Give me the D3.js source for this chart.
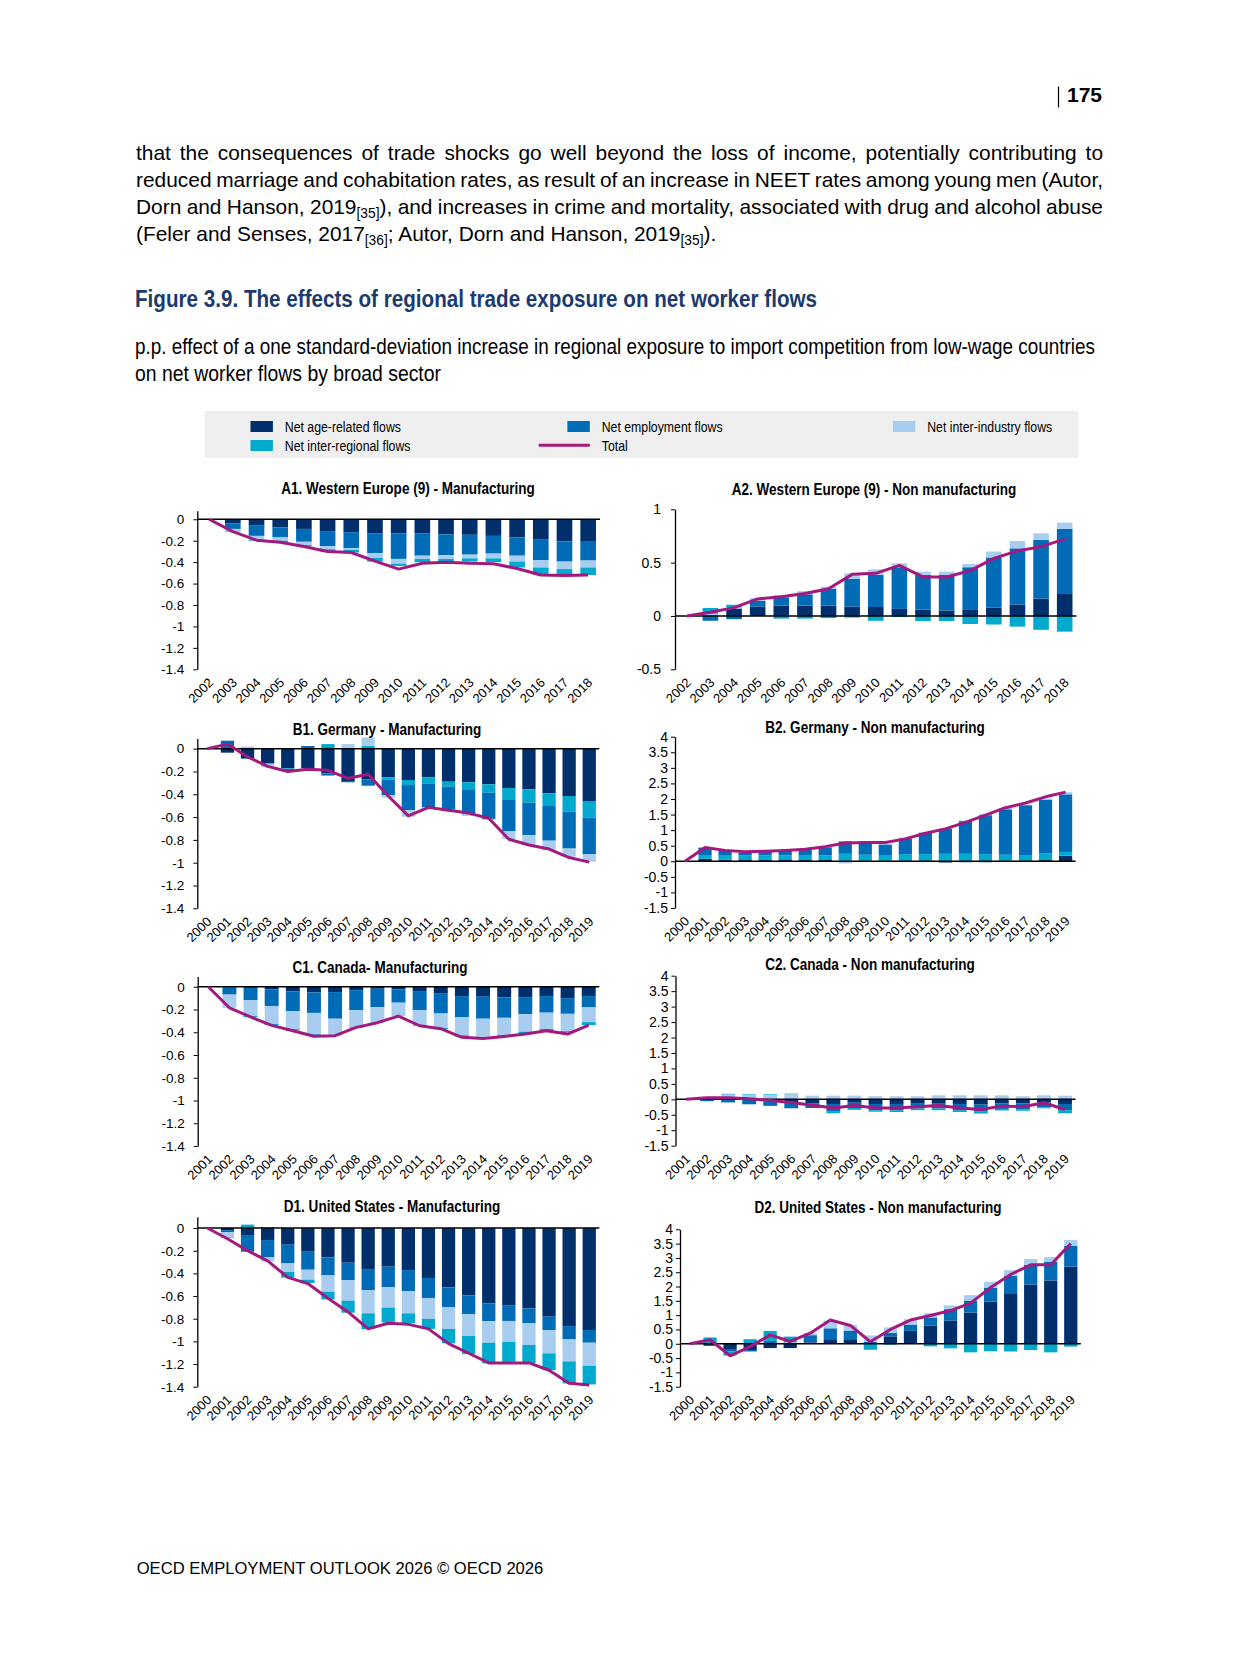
<!DOCTYPE html>
<html>
<head>
<meta charset="utf-8">
<script src="https://cdn.jsdelivr.net/npm/d3@7"></script>
<style>
body { margin: 0; background: #fff; }
#page { position: relative; width: 1241px; height: 1654px; overflow: hidden; background: #fff; }
#para { position: absolute; left: 136px; top: 140.2px; width: 967px; font-family: "Liberation Sans", Arial, sans-serif; font-size: 20.9px; line-height: 26.8px; color: #000; }
#para div { white-space: nowrap; height: 26.8px; }
#para sub { font-size: 13.8px; vertical-align: -4px; line-height: 0; }
svg { position: absolute; left: 0; top: 0; }
</style>
</head>
<body>
<div id="page">
  <div id="para">
    <div class="jl"><span>that the consequences of trade shocks go well beyond the loss of income, potentially contributing to</span></div>
    <div class="jl"><span>reduced marriage and cohabitation rates, as result of an increase in NEET rates among young men (Autor,</span></div>
    <div class="jl"><span>Dorn and Hanson, 2019<sub>[35]</sub>), and increases in crime and mortality, associated with drug and alcohol abuse</span></div>
    <div><span>(Feler and Senses, 2017<sub>[36]</sub>; Autor, Dorn and Hanson, 2019<sub>[35]</sub>).</span></div>
  </div>
</div>
<script>
// ---- categories ----
var yrs02_18 = ["2002","2003","2004","2005","2006","2007","2008","2009","2010","2011","2012","2013","2014","2015","2016","2017","2018"];
var yrs00_19 = ["2000","2001","2002","2003","2004","2005","2006","2007","2008","2009","2010","2011","2012","2013","2014","2015","2016","2017","2018","2019"];
var yrs01_19 = ["2001","2002","2003","2004","2005","2006","2007","2008","2009","2010","2011","2012","2013","2014","2015","2016","2017","2018","2019"];

var ticksLeft = [-1.4, -1.2, -1, -0.8, -0.6, -0.4, -0.2, 0];
var ticksA2 = [-0.5, 0, 0.5, 1];
var ticksRight = [-1.5, -1, -0.5, 0, 0.5, 1, 1.5, 2, 2.5, 3, 3.5, 4];

// ---- A1 Western Europe, manufacturing ----
var a1Age = [0, -0.04, -0.06, -0.075, -0.09, -0.11, -0.12, -0.13, -0.13, -0.13, -0.14, -0.145, -0.155, -0.17, -0.185, -0.205, -0.21];
var a1Emp = [0, -0.05, -0.095, -0.095, -0.12, -0.14, -0.15, -0.185, -0.24, -0.21, -0.195, -0.185, -0.165, -0.17, -0.195, -0.19, -0.175];
var a1Ind = [0, -0.025, -0.035, -0.03, -0.03, -0.03, -0.015, -0.045, -0.045, -0.03, -0.035, -0.035, -0.045, -0.055, -0.07, -0.07, -0.065];
var a1Reg = [0, -0.005, -0.01, -0.015, -0.01, -0.02, -0.025, -0.035, -0.02, -0.03, -0.03, -0.03, -0.035, -0.055, -0.07, -0.055, -0.07];
var a1Tot = [0, -0.115, -0.195, -0.215, -0.255, -0.3, -0.31, -0.39, -0.465, -0.41, -0.4, -0.41, -0.415, -0.46, -0.52, -0.525, -0.52];

// ---- A2 Western Europe, non manufacturing ----
var a2Age = [0, 0.005, 0.07, 0.087, 0.097, 0.097, 0.097, 0.087, 0.084, 0.066, 0.06, 0.05, 0.063, 0.078, 0.106, 0.163, 0.213];
var a2Emp = [0, -0.045, -0.03, 0.056, 0.078, 0.106, 0.156, 0.26, 0.303, 0.39, 0.325, 0.335, 0.394, 0.47, 0.528, 0.55, 0.603];
var a2Ind = [0, 0.015, 0.01, 0.025, 0.02, 0.03, 0.022, 0.053, 0.05, 0.037, 0.03, 0.03, 0.03, 0.056, 0.069, 0.062, 0.06];
var a2Reg = [0, 0.055, 0.025, 0, -0.025, -0.025, -0.02, -0.015, -0.045, -0.01, -0.047, -0.047, -0.075, -0.08, -0.1, -0.13, -0.147];
var a2Tot = [0, 0.034, 0.078, 0.16, 0.18, 0.21, 0.256, 0.39, 0.4, 0.475, 0.366, 0.366, 0.425, 0.54, 0.61, 0.65, 0.72];

// ---- B1 Germany, manufacturing ----
var b1Age = [0, -0.035, -0.085, -0.128, -0.172, -0.172, -0.216, -0.29, -0.27, -0.25, -0.275, -0.25, -0.29, -0.295, -0.313, -0.345, -0.357, -0.392, -0.415, -0.459];
var b1Reg = [0, 0, 0, 0, -0.005, 0, 0.04, 0.005, 0.023, -0.023, -0.044, -0.058, -0.044, -0.061, -0.073, -0.105, -0.117, -0.111, -0.137, -0.146];
var b1Emp = [0, 0.07, -0.005, -0.005, -0.01, 0.023, -0.02, -0.005, -0.055, -0.134, -0.22, -0.205, -0.2, -0.22, -0.23, -0.272, -0.284, -0.304, -0.324, -0.319];
var b1Ind = [0, 0, 0.018, -0.03, 0, -0.02, 0, 0.035, 0.076, -0.023, -0.058, -0.018, -0.018, -0.015, -0.01, -0.07, -0.088, -0.082, -0.07, -0.067];
var b1Tot = [0, 0.04, -0.072, -0.155, -0.2, -0.18, -0.19, -0.26, -0.225, -0.415, -0.59, -0.515, -0.54, -0.565, -0.61, -0.795, -0.845, -0.88, -0.955, -0.995];

// ---- B2 Germany, non manufacturing ----
var b2Age = [0, 0.08, 0.05, 0.04, 0.06, 0.04, 0.04, 0.04, 0.02, 0.01, 0.01, -0.02, -0.02, -0.04, -0.03, -0.03, -0.01, 0, 0.04, 0.18];
var b2Reg = [0, 0.1, 0.13, 0.15, 0.13, 0.15, 0.16, 0.15, 0.22, 0.2, 0.19, 0.23, 0.23, 0.24, 0.24, 0.23, 0.21, 0.2, 0.21, 0.12];
var b2Emp = [0, 0.26, 0.15, 0.1, 0.11, 0.14, 0.17, 0.26, 0.4, 0.38, 0.34, 0.5, 0.68, 0.8, 1.05, 1.25, 1.46, 1.6, 1.73, 1.85];
var b2Ind = [0, 0, 0.03, 0.02, 0.02, 0.02, 0.02, 0.02, -0.07, 0.01, 0.02, 0.03, 0.03, 0.03, 0.02, 0.04, 0.04, 0.02, 0.04, 0.07];
var b2Tot = [0, 0.44, 0.35, 0.31, 0.32, 0.35, 0.385, 0.47, 0.59, 0.6, 0.6, 0.72, 0.9, 1.04, 1.25, 1.48, 1.72, 1.87, 2.07, 2.22];

// ---- C1 Canada, manufacturing ----
var c1Age = [0, -0.005, -0.01, -0.023, -0.041, -0.05, -0.047, -0.03, -0.018, -0.023, -0.038, -0.056, -0.082, -0.088, -0.094, -0.091, -0.082, -0.1, -0.082];
var c1Emp = [0, -0.064, -0.108, -0.146, -0.173, -0.18, -0.234, -0.176, -0.161, -0.117, -0.167, -0.179, -0.187, -0.193, -0.179, -0.15, -0.146, -0.138, -0.1];
var c1Ind = [0, -0.117, -0.14, -0.158, -0.158, -0.187, -0.143, -0.15, -0.143, -0.117, -0.135, -0.126, -0.158, -0.152, -0.152, -0.155, -0.143, -0.152, -0.129];
var c1Reg = [0, 0, -0.01, -0.01, -0.01, -0.015, -0.003, -0.006, 0, 0, -0.005, -0.012, -0.012, -0.003, -0.01, -0.012, -0.012, -0.01, -0.026];
var c1Tot = [0, -0.185, -0.265, -0.34, -0.387, -0.435, -0.43, -0.357, -0.316, -0.258, -0.343, -0.369, -0.445, -0.455, -0.437, -0.416, -0.387, -0.416, -0.337];

// ---- C2 Canada, non manufacturing ----
var c2Age = [0, 0, 0, -0.02, -0.07, -0.09, -0.13, -0.15, -0.11, -0.15, -0.15, -0.12, -0.12, -0.15, -0.17, -0.13, -0.13, -0.1, -0.15];
var c2Emp = [0, -0.06, -0.1, -0.14, -0.14, -0.2, -0.15, -0.25, -0.17, -0.2, -0.2, -0.18, -0.18, -0.2, -0.23, -0.18, -0.19, -0.16, -0.2];
var c2Ind = [0, 0.04, 0.16, 0.14, 0.15, 0.2, 0.12, 0.12, 0.12, 0.1, 0.1, 0.1, 0.13, 0.13, 0.13, 0.13, 0.1, 0.13, 0.12];
var c2Reg = [0, 0, 0.02, 0.02, 0.02, 0, 0, -0.05, -0.06, -0.05, -0.06, -0.05, -0.05, -0.06, -0.06, -0.05, -0.05, -0.03, -0.1];
var c2Tot = [0, 0.05, 0.05, 0.02, -0.04, -0.1, -0.19, -0.28, -0.2, -0.28, -0.28, -0.24, -0.2, -0.28, -0.33, -0.22, -0.24, -0.11, -0.33];

// ---- D1 United States, manufacturing ----
var d1Age = [0, -0.018, -0.068, -0.106, -0.147, -0.209, -0.259, -0.306, -0.362, -0.341, -0.371, -0.441, -0.524, -0.594, -0.665, -0.685, -0.709, -0.782, -0.865, -0.9];
var d1Emp = [0, -0.02, -0.141, -0.153, -0.165, -0.159, -0.159, -0.153, -0.185, -0.182, -0.188, -0.176, -0.176, -0.165, -0.156, -0.135, -0.132, -0.118, -0.118, -0.112];
var d1Ind = [0, -0.044, 0, -0.038, -0.076, -0.088, -0.144, -0.182, -0.206, -0.179, -0.194, -0.185, -0.191, -0.194, -0.191, -0.185, -0.191, -0.206, -0.194, -0.203];
var d1Reg = [0, -0.005, 0.03, 0.005, -0.05, -0.03, -0.068, -0.106, -0.138, -0.132, -0.088, -0.088, -0.126, -0.159, -0.182, -0.176, -0.162, -0.147, -0.194, -0.165];
var d1Tot = [0, -0.095, -0.2, -0.29, -0.435, -0.49, -0.62, -0.74, -0.89, -0.84, -0.85, -0.89, -1.02, -1.105, -1.19, -1.19, -1.19, -1.255, -1.37, -1.385];

// ---- D2 United States, non manufacturing ----
var d2Age = [0, -0.07, -0.21, -0.22, -0.15, -0.15, 0.05, 0.16, 0.16, 0.02, 0.26, 0.45, 0.64, 0.81, 1.09, 1.47, 1.74, 2.07, 2.21, 2.7];
var d2Emp = [0, 0, -0.05, -0.05, 0.1, 0.03, 0.25, 0.38, 0.3, 0.05, 0.12, 0.22, 0.28, 0.4, 0.42, 0.49, 0.63, 0.69, 0.65, 0.72];
var d2Ind = [0, 0, 0, 0, 0, 0.02, 0.07, 0.27, 0.2, 0.22, 0.19, 0.19, 0.15, 0.13, 0.19, 0.21, 0.2, 0.2, 0.17, 0.21];
var d2Reg = [0, 0.22, -0.15, 0.16, 0.35, 0.2, 0, 0, 0, -0.21, -0.03, 0, -0.09, -0.16, -0.3, -0.26, -0.27, -0.22, -0.3, -0.1];
var d2Tot = [0, 0.14, -0.42, -0.1, 0.31, 0.08, 0.37, 0.83, 0.64, 0.07, 0.5, 0.83, 0.99, 1.16, 1.42, 1.97, 2.42, 2.76, 2.76, 3.5];

var seriesNames = {age: "Net age-related flows", emp: "Net employment flows", ind: "Net inter-industry flows", reg: "Net inter-regional flows"};
var colors = {age: "#002F6C", emp: "#006BB6", ind: "#A9CDEE", reg: "#00A9CE", tot: "#A3197F"};
var stdOrder = ["age", "emp", "ind", "reg"];
var deOrder = ["age", "reg", "emp", "ind"];   // Germany charts stack in another order

// is a narrow font around?
var cv = document.createElement("canvas").getContext("2d");
cv.font = '40px "Liberation Sans Narrow", monospace';
var wN = cv.measureText("Manufacturing flows").width;
cv.font = '40px monospace';
var wM = cv.measureText("Manufacturing flows").width;
var hasNarrow = Math.abs(wN - wM) > 1;
var narrowFam = hasNarrow ? '"Liberation Sans Narrow", "Arial Narrow", sans-serif' : '"Liberation Sans", Arial, sans-serif';
var nx = hasNarrow ? 1 : 0.82;
var regFam = '"Liberation Sans", Arial, sans-serif';

// justify paragraph lines
document.querySelectorAll("#para .jl").forEach(function(d){
    var s = d.querySelector("span");
    var w = s.getBoundingClientRect().width;
    var n = (s.textContent.match(/ /g) || []).length;
    s.style.wordSpacing = ((967 - w) / n) + "px";
});

var svg = d3.select("#page").append("svg").attr("width", 1241).attr("height", 1654);

function ntext(sel, x, y, str, size, weight, anchor, fill){
    return sel.append("text")
        .attr("transform", "translate(" + x + "," + y + ") scale(" + nx + ",1)")
        .attr("font-family", narrowFam)
        .attr("font-size", size)
        .attr("font-weight", weight || "normal")
        .attr("text-anchor", anchor || "start")
        .attr("fill", fill || "#000")
        .text(str);
}

// page number
svg.append("line").attr("x1", 1058.5).attr("x2", 1058.5).attr("y1", 86.5).attr("y2", 107.5).attr("stroke", "#000").attr("stroke-width", 1.2);
svg.append("text").attr("x", 1067).attr("y", 101.7).attr("font-family", regFam).attr("font-size", 21).attr("font-weight", "bold").text("175");

// figure heading
ntext(svg, 135, 306.7, "Figure 3.9. The effects of regional trade exposure on net worker flows", 24, "bold", "start", "#1B3A6E")
    .attr("textLength", 682 / nx).attr("lengthAdjust", "spacingAndGlyphs");
ntext(svg, 135, 354.3, "p.p. effect of a one standard-deviation increase in regional exposure to import competition from low-wage countries", 22.5)
    .attr("textLength", 960 / nx).attr("lengthAdjust", "spacingAndGlyphs");
ntext(svg, 135, 381, "on net worker flows by broad sector", 22.5)
    .attr("textLength", 306 / nx).attr("lengthAdjust", "spacingAndGlyphs");

// footer
svg.append("text").attr("x", 136.7).attr("y", 1574).attr("font-family", regFam).attr("font-size", 16.6).text("OECD EMPLOYMENT OUTLOOK 2026 \u00A9 OECD 2026");

// legend
var leg = svg.append("g");
leg.append("rect").attr("x", 204.6).attr("y", 411).attr("width", 873.7).attr("height", 47).attr("fill", "#EFEFEF");
var legItems = [
    {k: "age", x: 250.5, y: 421},
    {k: "emp", x: 567.4, y: 421},
    {k: "ind", x: 892.9, y: 421},
    {k: "reg", x: 250.5, y: 440}
];
legItems.forEach(function(it){
    leg.append("rect").attr("x", it.x).attr("y", it.y).attr("width", 22.4).attr("height", 11).attr("fill", colors[it.k]);
    ntext(leg, it.x + 34.3, it.y + 10.5, seriesNames[it.k], 15);
});
leg.append("line").attr("x1", 538.7).attr("x2", 589.8).attr("y1", 445.3).attr("y2", 445.3).attr("stroke", colors.tot).attr("stroke-width", 3);
ntext(leg, 601.8, 451, "Total", 15);

var panels = [
    {title: "A1. Western Europe (9) - Manufacturing", years: yrs02_18, age: a1Age, emp: a1Emp, ind: a1Ind, reg: a1Reg, tot: a1Tot, order: stdOrder,
     ticks: ticksLeft, dom: [-1.4, 0.08], x0: 197.3, x1: 600, yB: 669.3, yT: 510.7, tx: 408, ty: 494, fs: 13.5, pad: 9},
    {title: "A2. Western Europe (9) - Non manufacturing", years: yrs02_18, age: a2Age, emp: a2Emp, ind: a2Ind, reg: a2Reg, tot: a2Tot, order: stdOrder,
     ticks: ticksA2, dom: [-0.5, 1], x0: 675, x1: 1076.5, yB: 669.3, yT: 509.3, tx: 874, ty: 495, fs: 14, pad: 10},
    {title: "B1. Germany - Manufacturing", years: yrs00_19, age: b1Age, emp: b1Emp, ind: b1Ind, reg: b1Reg, tot: b1Tot, order: deOrder,
     ticks: ticksLeft, dom: [-1.4, 0.09], x0: 197.3, x1: 599.3, yB: 908.3, yT: 738.4, tx: 387, ty: 735, fs: 13.5, pad: 9},
    {title: "B2. Germany - Non manufacturing", years: yrs00_19, age: b2Age, emp: b2Emp, ind: b2Ind, reg: b2Reg, tot: b2Tot, order: deOrder,
     ticks: ticksRight, dom: [-1.5, 4], x0: 675, x1: 1075.6, yB: 908, yT: 736.7, tx: 875, ty: 733, fs: 14, pad: 3},
    {title: "C1. Canada- Manufacturing", years: yrs01_19, age: c1Age, emp: c1Emp, ind: c1Ind, reg: c1Reg, tot: c1Tot, order: stdOrder,
     ticks: ticksLeft, dom: [-1.4, 0.09], x0: 197.7, x1: 599.3, yB: 1146, yT: 976.5, tx: 380, ty: 973, fs: 13.5, pad: 9},
    {title: "C2. Canada - Non manufacturing", years: yrs01_19, age: c2Age, emp: c2Emp, ind: c2Ind, reg: c2Reg, tot: c2Tot, order: stdOrder,
     ticks: ticksRight, dom: [-1.5, 4], x0: 675.5, x1: 1075.5, yB: 1145.7, yT: 975.7, tx: 870, ty: 970, fs: 14, pad: 3},
    {title: "D1. United States - Manufacturing", years: yrs00_19, age: d1Age, emp: d1Emp, ind: d1Ind, reg: d1Reg, tot: d1Tot, order: stdOrder,
     ticks: ticksLeft, dom: [-1.4, 0.1], x0: 197.3, x1: 599.3, yB: 1386.7, yT: 1216.7, tx: 392, ty: 1212, fs: 13.5, pad: 9},
    {title: "D2. United States - Non manufacturing", years: yrs00_19, age: d2Age, emp: d2Emp, ind: d2Ind, reg: d2Reg, tot: d2Tot, order: stdOrder,
     ticks: ticksRight, dom: [-1.5, 4], x0: 680, x1: 1080.8, yB: 1386.7, yT: 1229.3, tx: 878, ty: 1213, fs: 14, pad: 3}
];

panels.forEach(function(p){
    var g = svg.append("g");
    var x = d3.scaleBand().domain(p.years).range([p.x0, p.x1]).paddingInner(0.34).paddingOuter(0.17);
    var y = d3.scaleLinear().domain(p.dom).range([p.yB, p.yT]);

    var rows = p.years.map(function(yr, i){
        return {yr: yr, age: p.age[i], emp: p.emp[i], ind: p.ind[i], reg: p.reg[i]};
    });
    var stacked = d3.stack().keys(p.order).offset(d3.stackOffsetDiverging)(rows);

    g.selectAll("g.layer").data(stacked).join("g")
        .attr("class", "layer")
        .attr("fill", function(d){ return colors[d.key]; })
      .selectAll("rect").data(function(d){ return d; }).join("rect")
        .attr("x", function(d){ return x(d.data.yr); })
        .attr("width", x.bandwidth())
        .attr("y", function(d){ return y(Math.max(d[0], d[1])); })
        .attr("height", function(d){ return Math.abs(y(d[0]) - y(d[1])); });

    // zero line
    g.append("line").attr("x1", p.x0).attr("x2", p.x1).attr("y1", y(0)).attr("y2", y(0))
        .attr("stroke", "#000").attr("stroke-width", 1.5);

    var ax = g.append("g").attr("transform", "translate(" + p.x0 + ",0)")
        .call(d3.axisLeft(y).tickValues(p.ticks).tickSize(4).tickSizeOuter(0).tickPadding(p.pad)
              .tickFormat(function(d){ return String(d); }));
    ax.select(".domain").attr("stroke", "#000").attr("stroke-width", 1.3);
    ax.selectAll(".tick line").attr("stroke", "#000");
    ax.selectAll("text").attr("font-family", regFam).attr("font-size", p.fs).attr("fill", "#000");

    // rotated year labels
    g.selectAll("text.xl").data(p.years).join("text")
        .attr("class", "xl")
        .attr("transform", function(d){
            return "translate(" + (x(d) + x.bandwidth() / 2 + 5) + "," + (p.yB + 14) + ") rotate(-45)";
        })
        .attr("text-anchor", "end")
        .attr("font-family", regFam)
        .attr("font-size", 13)
        .text(function(d){ return d; });

    // total
    g.append("path").datum(p.tot)
        .attr("fill", "none")
        .attr("stroke", colors.tot)
        .attr("stroke-width", 3)
        .attr("stroke-linejoin", "round")
        .attr("d", d3.line()
            .x(function(d, i){ return x(p.years[i]) + x.bandwidth() / 2; })
            .y(function(d){ return y(d); }));

    ntext(g, p.tx, p.ty, p.title, 16.5, "bold", "middle");
});
</script>
</body>
</html>
